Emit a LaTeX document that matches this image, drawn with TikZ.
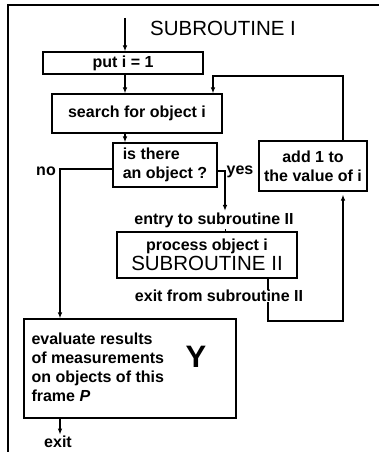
\documentclass[tikz,border=0pt]{standalone}
\usepackage{fontspec}
\setmainfont{Liberation Sans}
\usetikzlibrary{arrows.meta}

\begin{document}
\begin{tikzpicture}[x=1pt,y=-1pt,line width=1.1pt,
  box/.style={draw,rectangle,inner sep=0pt,font=\fontsize{16}{19}\selectfont\bfseries},
  lbl/.style={inner sep=1pt,font=\fontsize{16}{19}\selectfont\bfseries},
  big/.style={inner sep=0pt,font=\fontsize{20.5}{24}\selectfont},
  arr/.style={-{Latex[length=6pt,width=4.5pt]}}]
\useasboundingbox (0,0) rectangle (379,452);

% open frame: top and left edges only
\draw (379,5) -- (8,5) -- (8,452);

% boxes
\node[big] (title) at (223,28) {SUBROUTINE I};
\node[box,minimum width=160pt,minimum height=22pt] (put) at (123,63) {put i = 1};
\node[box,minimum width=170pt,minimum height=39pt] (search) at (137,113.5) {search for object i};
\node[box,minimum width=104pt,minimum height=44pt,align=left] (dec) at (165,165)
  {is there\\an object ?};
\node[box,minimum width=108pt,minimum height=50pt,align=center] (add) at (313,166)
  {add 1 to\\the value of i};
\node[box,minimum width=180pt,minimum height=46pt,align=center] (sub) at (207,255)
  {process object i\\[1pt]{\fontsize{20.5}{22}\selectfont\mdseries SUBROUTINE II}};
\node[box,minimum width=212pt,minimum height=99pt] (eval) at (130,368.5) {};
\node[lbl,anchor=north west,align=left,inner sep=0pt] (evtext) at (31,332)
  {evaluate results\\of measurements\\on objects of this\\frame \textit{P}};
\node[inner sep=0pt,font=\fontsize{31}{31}\selectfont\bfseries] (ybig) at (196,357) {Y};

% labels
\node[lbl] (no) at (46,171) {no};
\node[lbl] (yes) at (240,172) {yes};
\node[lbl] (entry) at (214,220) {entry to subroutine II};
\node[lbl] (exitlbl) at (58,442) {exit};

% helper coordinates
\coordinate (sx) at (125,18);
\coordinate (rx) at (343,0);
\coordinate (loopL) at (213,76);
\coordinate (nox) at (60,169);
\coordinate (yesx) at (225,171);
\coordinate (ex) at (268,321);

% main spine
\draw[arr] (sx) -- (sx |- put.north);
\draw[arr] (put.south -| sx) -- (search.north -| sx);
\draw[arr] (search.south -| sx) -- (dec.north -| sx);

% loop back from add box to search box
\draw[arr] (add.north -| rx) |- (loopL) -- (loopL |- search.north);

% no branch
\draw[arr] (dec.west |- nox) -- (nox) -- (nox |- eval.north);

% yes branch into subroutine II
\draw[arr] (dec.east |- yesx) -- (yesx) -- (yesx |- entry.north);
\draw[line width=0.7pt] (yesx |- entry.south) -- (yesx |- sub.north);

% return from subroutine II to the add box
\draw[arr,shorten >=3pt] (sub.south -| ex) -- (ex) -| (add.south -| rx);
\node[lbl,fill=white,inner sep=0.5pt] (exitsub) at (219,296) {exit from subroutine II};

% exit
\draw[arr] (eval.south -| nox) -- (nox |- exitlbl.north);
\end{tikzpicture}
\end{document}
